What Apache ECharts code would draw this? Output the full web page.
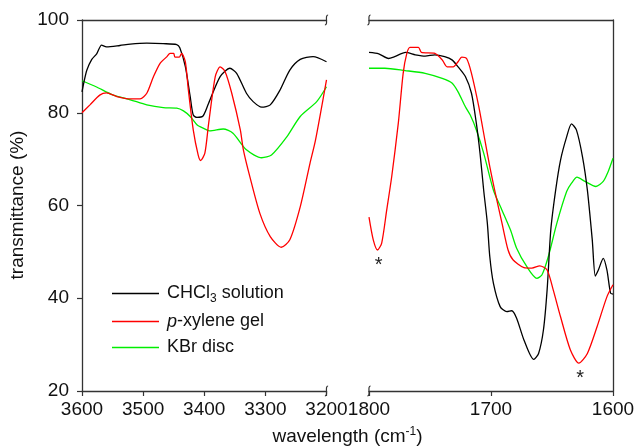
<!DOCTYPE html>
<html><head><meta charset="utf-8">
<script src="https://cdn.jsdelivr.net/npm/echarts@6/dist/echarts.min.js"></script>
<style>html,body{margin:0;padding:0;background:#fff}#c{width:636px;height:446px}</style>
</head><body><div id="c"></div>
<script>
// ---------- data ----------
const seriesNames = ['CHCl3 solution', 'p-xylene gel', 'KBr disc'];
const seriesColors = ['#000000', '#ff0000', '#00ee00'];
const yRange = [20, 100];
const yStep = 20;
const xRangeHigh = [3200, 3600];
const xRangeLow = [1600, 1800];
const xStep = 100;

// [wavenumber (cm-1), transmittance (%)]
const chcl3High = [[3600,84.5],[3597,86.5],[3592,89.2],[3584,91.5],[3576,92.7],[3568,94.6],[3560,94.2],[3538,94.5],[3521,94.8],[3494,95.0],[3467,94.9],[3445,94.7],[3440,94.0],[3431,90.0],[3423,83.5],[3418,79.5],[3412,79.0],[3402,79.3],[3393,82.0],[3374,87.8],[3358,89.6],[3347,88.5],[3331,84.2],[3320,82.4],[3306,81.2],[3292,81.7],[3276,84.9],[3260,89.2],[3243,91.5],[3222,92.1],[3200,91.0]];
const xyleneHigh = [[3600,80.0],[3587,81.7],[3571,83.8],[3560,84.3],[3543,83.5],[3521,83.0],[3505,83.0],[3494,84.2],[3483,87.8],[3472,90.7],[3461,92.1],[3456,92.8],[3450,92.8],[3448,92.0],[3441,92.0],[3437,92.8],[3431,91.0],[3426,84.9],[3418,76.3],[3410,70.9],[3406,69.7],[3399,71.3],[3393,77.5],[3382,87.8],[3374,89.9],[3366,88.9],[3355,84.2],[3341,76.3],[3336,72.0],[3325,66.0],[3309,58.3],[3292,53.3],[3274,51.0],[3260,52.6],[3243,59.7],[3227,69.1],[3218,74.1],[3200,87.1]];
const kbrHigh = [[3600,86.9],[3577,85.6],[3549,83.8],[3521,82.8],[3494,81.7],[3467,81.1],[3445,81.0],[3434,80.4],[3423,79.2],[3412,77.4],[3407,77.0],[3396,76.3],[3391,76.1],[3369,76.5],[3353,75.6],[3331,72.0],[3306,70.3],[3290,70.9],[3265,74.8],[3243,79.2],[3216,82.4],[3200,85.6]];

const chcl3Low = [[1800,93.0],[1792,92.7],[1784,91.7],[1779,92.1],[1770,93.0],[1762,92.5],[1754,92.2],[1746,92.5],[1738,92.1],[1732,91.4],[1727,89.9],[1721,87.8],[1716,84.2],[1712,77.7],[1709,71.3],[1706,63.3],[1703,56.2],[1701,49.0],[1698,43.2],[1692.5,38.2],[1687,37.1],[1683,37.3],[1679,35.7],[1673,31.0],[1665,26.8],[1661,28.1],[1657,33.2],[1654,41.8],[1651,54.7],[1647,63.3],[1643,69.8],[1638,74.8],[1634,77.6],[1630,76.3],[1625,70.5],[1621,63.3],[1617,52.6],[1614.5,44.8],[1612,46.1],[1608,48.6],[1605,46.1],[1602,41.1],[1600,40.9]];
const xyleneLow = [[1800,57.5],[1796.5,52.6],[1793,50.4],[1789.6,51.9],[1785.5,59.0],[1781.4,66.2],[1776,77.7],[1772,88.5],[1769,92.8],[1766.4,94.1],[1759.5,94.1],[1757,93.0],[1746,92.8],[1740,91.4],[1736,89.9],[1731,89.9],[1727,91.0],[1724,92.0],[1720,91.7],[1716,88.5],[1710,81.3],[1705,74.1],[1701,68.4],[1697,63.3],[1691,56.2],[1686,50.4],[1682,48.3],[1673,46.6],[1666.5,46.5],[1660,47.0],[1654,46.1],[1649,41.8],[1643,36.0],[1635,28.9],[1628,26.0],[1621,28.1],[1613,33.9],[1605,40.3],[1600,42.9]];
const kbrLow = [[1800,89.6],[1787,89.6],[1770.5,89.1],[1754,88.5],[1740,87.4],[1732,86.4],[1727,84.5],[1721,81.3],[1717,79.5],[1712,76.3],[1706,71.3],[1698,63.3],[1691,59.0],[1684,54.7],[1679,50.8],[1670.6,46.8],[1662.4,44.3],[1658.3,45.0],[1653,49.0],[1646,56.2],[1638,63.0],[1634,64.8],[1629.5,66.1],[1623,65.2],[1614,64.1],[1608,65.2],[1604,67.3],[1600,70.2]];

// asterisk annotations on the p-xylene gel curve
const asteriskMarks = [[1792, 47.1], [1627, 22.8]];

// ---------- chart ----------
const FONT = '"Liberation Sans", Arial, sans-serif';
const AX = '#333';
const chart = echarts.init(document.getElementById('c'), null, {renderer: 'canvas'});

function xAxisCfg(grid, range, pos, labels) {
  return {
    type: 'value', gridIndex: grid, min: range[0], max: range[1], interval: xStep,
    inverse: true, position: pos,
    axisLine: {show: true, onZero: false, lineStyle: {color: AX, width: 1.3}},
    axisTick: {show: labels, inside: false, length: 5, lineStyle: {color: AX, width: 1.2}},
    axisLabel: {show: labels, margin: 9, fontSize: 19, color: '#111', fontFamily: FONT,
      formatter: function (v) { return String(v); }},
    splitLine: {show: false}
  };
}
function lineSeries(name, idx, data, color, extra) {
  return Object.assign({
    name: name, type: 'line', xAxisIndex: idx, yAxisIndex: idx, data: data,
    symbol: 'none', smooth: 0.25, animation: false,
    lineStyle: {color: color, width: 1.3}, itemStyle: {color: color}
  }, extra || {});
}

function breakMark(x, y) {
  return {
    type: 'bezierCurve', z: 100,
    shape: {x1: x + 1.6, y1: y - 5, cpx1: x - 2.2, cpy1: y - 5, cpx2: x + 2.2, cpy2: y + 5, x2: x - 1.6, y2: y + 5},
    style: {stroke: AX, lineWidth: 1.2, fill: null}
  };
}

const gridL = {left: 82, top: 20, width: 244.5, height: 371};
const gridR = {left: 369, top: 20, width: 244, height: 371};

const option = {
  animation: false,
  backgroundColor: '#fff',
  grid: [Object.assign({outerBoundsMode: 'none'}, gridL), Object.assign({outerBoundsMode: 'none'}, gridR)],
  xAxis: [
    xAxisCfg(0, xRangeHigh, 'bottom', true),
    xAxisCfg(1, xRangeLow, 'bottom', true),
    xAxisCfg(0, xRangeHigh, 'top', false),
    xAxisCfg(1, xRangeLow, 'top', false)
  ],
  yAxis: [
    {type: 'value', gridIndex: 0, min: yRange[0], max: yRange[1], interval: yStep, position: 'left',
     axisLine: {show: true, lineStyle: {color: AX, width: 1.3}},
     axisTick: {show: true, length: 5, lineStyle: {color: AX, width: 1.2}},
     axisLabel: {margin: 13, fontSize: 19, color: '#111', fontFamily: FONT},
     splitLine: {show: false}},
    {type: 'value', gridIndex: 1, min: yRange[0], max: yRange[1], interval: yStep, position: 'right',
     axisLine: {show: true, lineStyle: {color: AX, width: 1.3}},
     axisTick: {show: false}, axisLabel: {show: false}, splitLine: {show: false}}
  ],
  legend: {
    orient: 'vertical', left: 112, top: 284.5, padding: 0, itemWidth: 47, itemHeight: 1.3, itemGap: 8,
    icon: 'rect',
    data: seriesNames,
    formatter: function (n) {
      if (n === 'CHCl3 solution') return '{n|CHCl}{s|3}{n| solution}';
      if (n === 'p-xylene gel') return '{i|p}{n|-xylene gel}';
      return '{n|' + n + '}';
    },
    textStyle: {
      padding: [0, 0, 0, 3],
      rich: {
        n: {fontSize: 18, fontFamily: FONT, color: '#111', lineHeight: 22},
        i: {fontSize: 18, fontFamily: FONT, color: '#111', lineHeight: 22, fontStyle: 'italic'},
        s: {fontSize: 12, fontFamily: FONT, color: '#111', lineHeight: 12, verticalAlign: 'bottom'}
      }
    }
  },
  series: [
    lineSeries(seriesNames[2], 0, kbrHigh, seriesColors[2]),
    lineSeries(seriesNames[0], 0, chcl3High, seriesColors[0]),
    lineSeries(seriesNames[1], 0, xyleneHigh, seriesColors[1]),
    lineSeries(seriesNames[2], 1, kbrLow, seriesColors[2]),
    lineSeries(seriesNames[0], 1, chcl3Low, seriesColors[0]),
    lineSeries(seriesNames[1], 1, xyleneLow, seriesColors[1], {
      markPoint: {
        symbol: 'circle', symbolSize: 1, itemStyle: {color: 'rgba(0,0,0,0)'},
        label: {show: true, position: 'inside', formatter: '*', color: '#222', fontSize: 20, fontFamily: FONT},
        data: asteriskMarks.map(function (p) { return {coord: p}; })
      }
    })
  ],
  graphic: [
    breakMark(326.5, 20), breakMark(326.5, 391), breakMark(369, 20), breakMark(369, 391),
    {type: 'text', x: 18, y: 205, rotation: Math.PI / 2,
     style: {text: 'transmittance (%)', fontSize: 19, fontFamily: FONT, fill: '#111', textAlign: 'center', textVerticalAlign: 'middle'}},
    {type: 'text', x: 347.5, y: 437,
     style: {text: '{n|wavelength (cm}{p|-1}{n|)}', fill: '#111', textAlign: 'center', textVerticalAlign: 'middle',
       rich: {
         n: {fontSize: 19, fontFamily: FONT, fill: '#111', lineHeight: 22},
         p: {fontSize: 12, fontFamily: FONT, fill: '#111', lineHeight: 12, verticalAlign: 'top'}
       }}}
  ]
};
chart.setOption(option);
</script>
</body></html>
